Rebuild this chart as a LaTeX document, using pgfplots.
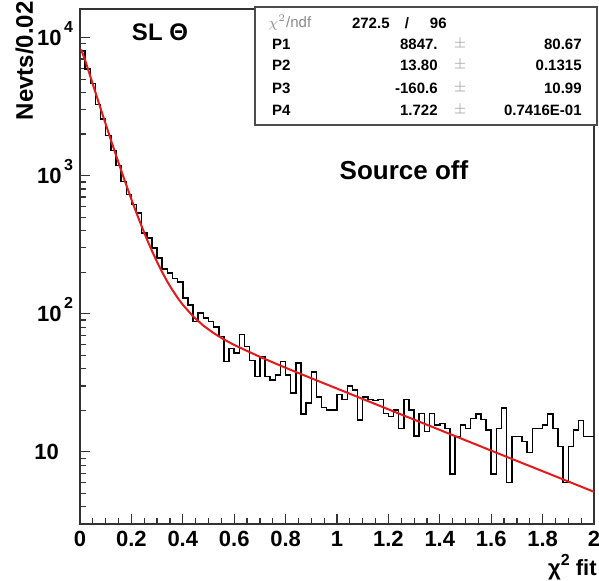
\documentclass[border=0pt]{standalone}
\usepackage{fontspec}
\setmainfont{Liberation Sans}
\usepackage{pgfplots}
\pgfplotsset{compat=1.18}
\definecolor{fitred}{rgb}{0.90,0.10,0.10}
\newcommand{\tenp}[1]{10\kern1.2pt\smash{\raisebox{6.5pt}{\fontsize{8}{8}\selectfont #1}}}
\begin{document}
\begin{tikzpicture}
\path[use as bounding box] (-40pt,-28pt) rectangle (259.5pt,262pt);
\begin{axis}[
  scale only axis, width=257pt, height=257.5pt,
  ymode=log, xmin=0, xmax=2, ymin=3.0, ymax=16100,
  axis line style={line width=0.9pt, black!80},
  xtick={0,0.2,0.4,0.6,0.8,1,1.2,1.4,1.6,1.8,2},
  xticklabels={0,0.2,0.4,0.6,0.8,1,1.2,1.4,1.6,1.8,2},
  minor x tick num=3,
  ytick={10,100,1000,10000},
  yticklabels={10\kern7pt,\tenp{2},\tenp{3},\tenp{4}},
  minor ytick={4,5,6,7,8,9,20,30,40,50,60,70,80,90,200,300,400,500,600,700,800,900,2000,3000,4000,5000,6000,7000,8000,9000},
  xtick pos=bottom, ytick pos=left,
  tick align=inside, major tick length=5pt, minor tick length=3pt,
  tick style={line width=0.6pt, black!80},
  tick label style={font=\bfseries\fontsize{11}{11}\selectfont},
]
\addplot[const plot, black, line width=0.75pt] coordinates {
(0,8090) (0.02,5930) (0.04,4645) (0.06,3265) (0.08,2575) (0.1,1950) (0.12,1517) (0.14,1188) (0.16,910) (0.18,728)
(0.2,616) (0.22,537) (0.24,384) (0.26,354) (0.28,299) (0.3,253) (0.32,211) (0.34,197) (0.36,180) (0.38,170)
(0.4,130) (0.42,116) (0.44,88) (0.46,101) (0.48,93) (0.5,88) (0.52,80) (0.54,68.5) (0.56,45) (0.58,56)
(0.6,52) (0.62,71) (0.64,58) (0.66,46) (0.68,35) (0.7,49) (0.72,35) (0.74,33) (0.76,36) (0.78,45)
(0.8,36) (0.82,26.6) (0.84,44) (0.86,18.8) (0.88,22.5) (0.9,38) (0.92,25) (0.94,21) (0.96,20) (0.98,20)
(1,26) (1.02,24) (1.04,30) (1.06,28) (1.08,17) (1.1,25) (1.12,24) (1.14,23.5) (1.16,24) (1.18,19)
(1.2,18) (1.22,20) (1.24,14.8) (1.26,24) (1.28,20) (1.3,13) (1.32,19) (1.34,14) (1.36,19) (1.38,15.7)
(1.4,16.1) (1.42,14.8) (1.44,6.9) (1.46,12.9) (1.48,15.7) (1.5,14.8) (1.52,17.5) (1.54,18.8) (1.56,17.1) (1.58,14.4)
(1.6,6.9) (1.62,14.8) (1.64,20.7) (1.66,6.0) (1.68,12.9) (1.7,12.9) (1.72,11.9) (1.74,9.9) (1.76,14.8) (1.78,14.8)
(1.8,15.7) (1.82,18.8) (1.84,14.8) (1.86,10.9) (1.88,6.0) (1.9,10.9) (1.92,14.4) (1.94,16.9) (1.96,12.9) (1.98,12.9)
(2,12.9)
};
\addplot[fitred, line width=1pt] coordinates {
(0.004,8200) (0.02,6868) (0.04,5244) (0.06,4010) (0.08,3073) (0.1,2361) (0.12,1820) (0.14,1408) (0.16,1094) (0.18,856)
(0.2,674) (0.22,535) (0.24,429) (0.26,347) (0.28,285) (0.3,237) (0.32,199.5) (0.34,170.5) (0.36,148) (0.38,130.2)
(0.4,116.1) (0.44,95.7) (0.48,82.0) (0.52,72.4) (0.56,65.1) (0.6,59.4) (0.7,48.7) (0.8,40.6) (0.9,34.1) (1.0,28.7)
(1.2,20.3) (1.4,14.4) (1.6,10.2) (1.8,7.24) (2.0,5.13)
};
\end{axis}
% statistics box
\draw[black!70, line width=0.6pt, fill=white] (87.5pt,199.5pt) rectangle (258.5pt,258.5pt);
\begin{scope}[every node/.style={inner sep=0pt, font=\bfseries\fontsize{7.5}{8}\selectfont}]
\node[anchor=west] at (94pt,250.5pt) {\color{black!45}\mdseries$\chi^2$/ndf};
\node[anchor=east] at (155pt,250.5pt) {272.5};
\node at (163.5pt,250.5pt) {/};
\node[anchor=east] at (183.5pt,250.5pt) {96};
\node[anchor=west] at (95.8pt,240pt) {P1};
\node[anchor=west] at (95.8pt,229.5pt) {P2};
\node[anchor=west] at (95.8pt,218pt) {P3};
\node[anchor=west] at (95.8pt,207pt) {P4};
\node[anchor=east] at (179pt,240pt) {8847.};
\node[anchor=east] at (179pt,229.5pt) {13.80};
\node[anchor=east] at (179pt,218pt) {-160.6};
\node[anchor=east] at (179pt,207pt) {1.722};
\node at (190pt,240pt) {\color{black!40}\mdseries$\pm$};
\node at (190pt,229.5pt) {\color{black!40}\mdseries$\pm$};
\node at (190pt,218pt) {\color{black!40}\mdseries$\pm$};
\node at (190pt,207pt) {\color{black!40}\mdseries$\pm$};
\node[anchor=east] at (251pt,240pt) {80.67};
\node[anchor=east] at (251pt,229.5pt) {0.1315};
\node[anchor=east] at (251pt,218pt) {10.99};
\node[anchor=east] at (251pt,207pt) {0.7416E-01};
\end{scope}
\node[font=\bfseries\fontsize{12}{12}\selectfont] at (40pt,246pt) {SL Θ};
\node[font=\bfseries\fontsize{13}{13}\selectfont] at (162pt,177pt) {Source off};
\node[rotate=90, anchor=north east, inner sep=0pt, font=\bfseries\fontsize{12}{12}\selectfont] at (-32.5pt,261.5pt) {Nevts/0.02};
\node[anchor=base east, inner sep=0pt, font=\bfseries\fontsize{11}{11}\selectfont] at (258.5pt,-25.5pt) {χ\raisebox{5pt}{\fontsize{8}{8}\selectfont 2} fit};
\end{tikzpicture}
\end{document}
